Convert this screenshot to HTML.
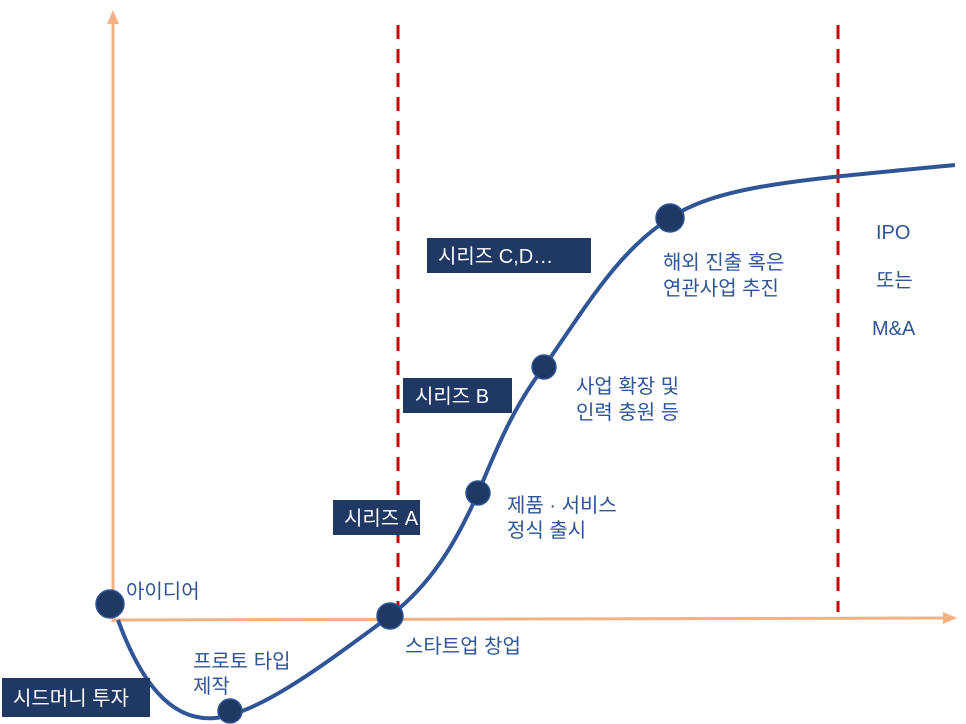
<!DOCTYPE html>
<html><head><meta charset="utf-8"><style>
body{margin:0;background:#fff;}
svg{display:block;font-family:"Liberation Sans","Noto Sans CJK KR",sans-serif;}
.lbl{fill:#2F5597;font-size:20px;}
.box text{fill:#fff;font-size:20px;}
</style></head><body>
<svg width="966" height="724" viewBox="0 0 966 724">
<g>
<line x1="113" y1="622" x2="113" y2="20" stroke="#F4B183" stroke-width="3"/>
<polygon points="113,10 107,24 119,24" fill="#F4B183"/>
<line x1="113" y1="620" x2="945" y2="618" stroke="#F4B183" stroke-width="3"/>
<polygon points="957,618 943,612 943,624" fill="#F4B183"/>
</g>
<line x1="398" y1="25" x2="398" y2="606" stroke="#C00000" stroke-width="3" stroke-dasharray="14,10"/>
<line x1="838" y1="25" x2="838" y2="612" stroke="#C00000" stroke-width="3" stroke-dasharray="14,10"/>
<path d="M118,620 C140,680 170,722 215,718 C260,714 330,660 390,616 C430,585 455,545 478,493 C500,440 515,405 544,367 C590,300 620,250 670,218 C720,185 800,180 955,165" fill="none" stroke="#2F5597" stroke-width="4"/>
<g id="dots"></g>
<g class="box">
<rect x="2" y="678" width="148" height="39" fill="#203864"/>
<text x="13" y="705">시드머니 투자</text>
<rect x="333" y="500" width="87" height="35" fill="#203864"/>
<text x="344" y="525">시리즈 A</text>
<rect x="403" y="378" width="109" height="35" fill="#203864"/>
<text x="415" y="403">시리즈 B</text>
<rect x="427" y="238" width="164" height="35" fill="#203864"/>
<text x="438" y="263">시리즈 C,D…</text>
</g>
<g>
<text class="lbl" x="126" y="598">아이디어</text>
<text class="lbl" x="193" y="668">프로토 타입</text>
<text class="lbl" x="193" y="693">제작</text>
<text class="lbl" x="405" y="653">스타트업 창업</text>
<text class="lbl" x="507" y="512">제품 · 서비스</text>
<text class="lbl" x="507" y="537">정식 출시</text>
<text class="lbl" x="576" y="393">사업 확장 및</text>
<text class="lbl" x="576" y="419">인력 충원 등</text>
<text class="lbl" x="663" y="269">해외 진출 혹은</text>
<text class="lbl" x="663" y="295">연관사업 추진</text>
<text class="lbl" x="876" y="239">IPO</text>
<text class="lbl" x="876" y="287">또는</text>
<text class="lbl" x="872" y="335">M&amp;A</text>
</g>
</svg>
<script>
const stageNames=['idea','prototype','founding','launch','expansion','overseas'];
const stageX=[110,230,390,478,544,670];
const stageY=[604,711,616,493,367,218];
const stageR=[14,12,13,12,12,14];
const g=document.getElementById('dots');
for(let i=0;i<stageNames.length;i++){
  const c=document.createElementNS('http://www.w3.org/2000/svg','circle');
  c.setAttribute('cx',stageX[i]);c.setAttribute('cy',stageY[i]);c.setAttribute('r',stageR[i]);
  c.setAttribute('fill','#203864');c.setAttribute('stroke','#2F5597');c.setAttribute('stroke-width','1.5');
  
  
  g.appendChild(c);
}
</script>
</body></html>
